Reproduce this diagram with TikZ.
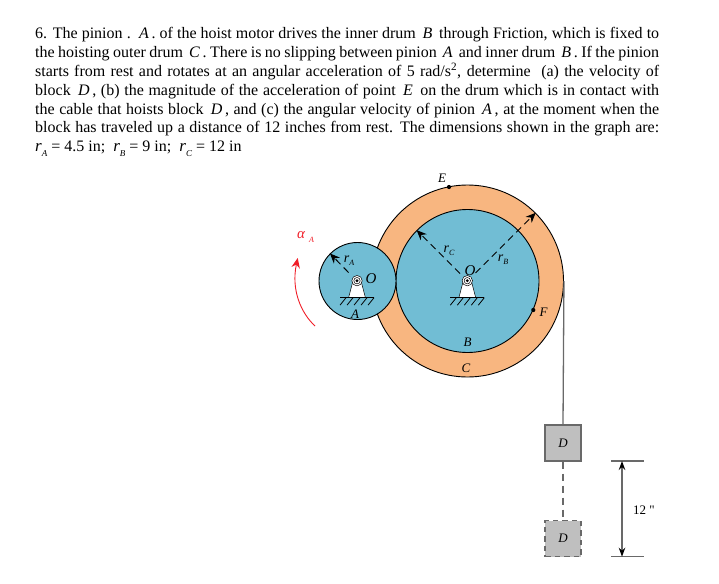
\documentclass[tikz,border=0pt]{standalone}
\usepackage{fontspec}
\setmainfont{Liberation Serif}
\newfontfamily\plainserif{Liberation Serif}
\usepackage{tikz}
\usetikzlibrary{arrows.meta, positioning, calc}
\definecolor{drumblue}{RGB}{113,189,212}
\definecolor{drumorange}{RGB}{248,182,128}
\definecolor{blockgray}{RGB}{191,191,191}
\definecolor{cablegray}{RGB}{105,105,105}
\definecolor{alphared}{RGB}{240,30,40}
\newcommand{\ital}[1]{\,\textit{#1}\,}
\newcommand{\rsub}[1]{{\fontsize{17}{17}\selectfont\textit{r}}\raisebox{-0.3em}{\fontsize{9}{9}\selectfont\textit{#1}}}
\tikzset{
    drum/.style={draw=black, line width=0.9pt, circle, inner sep=0pt},
    blockbox/.style={draw=cablegray, line width=1.2pt, fill=blockgray, minimum width=36pt, minimum height=36pt, inner sep=0pt, font=\fontsize{13}{13}\selectfont\itshape},
    radius/.style={draw=black, line width=1pt, dash pattern=on 7pt off 4.5pt, -{Stealth[length=10pt,width=8.5pt]}},
    lbl/.style={inner sep=0pt, font=\fontsize{13}{13}\selectfont\itshape},
    rlbl/.style={inner sep=0pt, font=\fontsize{12}{12}\selectfont\itshape},
    point/.style={circle, fill=black, inner sep=0pt, minimum size=4.2pt},
    support/.pic={
        \fill[white, draw=black, line width=0.5pt] (-4.5,2) -- (-8.3,16.6) -- (8.3,16.6) -- (4.5,2) -- cycle;
        \draw[line width=1.2pt] (-17,16.8) -- (17,16.8);
        \foreach \xx in {-10,-3,4,11,18}
            \draw[line width=0.8pt] (\xx-7,24.5) -- (\xx-1,17);
        \draw[fill=white, line width=0.5pt] (0,0) circle (5.2pt);
        \draw[line width=0.5pt] (0,0) circle (3.2pt);
        \fill (0,0) circle (1.6pt);
    }
}
\begin{document}
\begin{tikzpicture}[x=1pt, y=-1pt]
    \useasboundingbox (0,0) rectangle (719,583);
    % problem statement
    \node[anchor=north west, inner sep=0pt, text width=624pt, align=justify, font=\fontsize{16}{18.8}\selectfont] (statement) at (35,27.5) {
        6. The pinion . \ital{A}. of the hoist motor drives the inner drum \ital{B} through Friction, which is fixed to\linebreak
        the hoisting outer drum \ital{C}. There is no slipping between pinion \ital{A} and inner drum \ital{B}. If the pinion\linebreak
        starts from rest and rotates at an angular acceleration of 5 rad/s\textsuperscript{2}, determine \ (a) the velocity of\linebreak
        block \ital{D}, (b) the magnitude of the acceleration of point \ital{E} on the drum which is in contact with\linebreak
        the cable that hoists block \ital{D}, and (c) the angular velocity of pinion \ital{A}, at the moment when the\linebreak
        block has traveled up a distance of 12 inches from rest. The dimensions shown in the graph are:\linebreak
        \rsub{A} = 4.5 in; \ \rsub{B} = 9 in; \ \rsub{C} = 12 in
    };
    % drums
    \node[drum, fill=drumorange, minimum size=192pt] (drumC) at (467.5,281) {};
    \node[drum, fill=drumblue, minimum size=143pt] (drumB) at (467.5,281) {};
    \node[drum, fill=drumblue, minimum size=77pt] (pinion) at (357.5,281) {};
    \pic at (357,280.7) {support};
    \pic at (467.3,280.7) {support};
    % radii
    \coordinate (startC) at (460,273.5);
    \coordinate (startB) at (475.5,273);
    \coordinate (startA) at (348.5,272.5);
    \draw[radius] (startC) -- (drumB.135);
    \draw[radius] (startB) -- (drumC.45);
    \draw[radius] (startA) -- (pinion.135);
    % labels
    \node[rlbl] (labelrC) at (449,251) {\fontsize{14}{14}\selectfont r\raisebox{-0.2em}{\fontsize{8}{8}\selectfont C}};
    \node[rlbl] (labelrB) at (503,260) {\fontsize{14}{14}\selectfont r\raisebox{-0.2em}{\fontsize{8}{8}\selectfont B}};
    \node[rlbl] (labelrA) at (349,260.5) {\fontsize{14}{14}\selectfont r\raisebox{-0.2em}{\fontsize{8}{8}\selectfont A}};
    \node[lbl, font=\fontsize{15}{15}\selectfont\itshape] (labelOB) at (470,270.5) {O};
    \node[lbl, font=\fontsize{15}{15}\selectfont\itshape] (labelOA) at (371,279) {O};
    \node[lbl] (labelA) at (355,314) {A};
    \node[lbl] (labelB) at (467.5,342.5) {B};
    \node[lbl] (labelC) at (466,368.5) {C};
    \node[lbl] (labelE) at (442,178.5) {E};
    \node[lbl] (labelF) at (543.5,312.5) {F};
    \node[point] (pointE) at (449,187) {};
    \node[point] (pointF) at (533.3,310) {};
    % angular acceleration
    \node[lbl, text=alphared, font=\fontsize{15}{15}\selectfont\itshape] (alphaA) at (301,235) {α};
    \node[lbl, text=alphared, font=\fontsize{8}{8}\selectfont\itshape] (alphasub) at (311.5,240) {A};
    \coordinate (spinEnd) at (315,326);
    \coordinate (spinTip) at (297.7,258);
    \draw[alphared, line width=0.9pt, -{Stealth[length=10pt,width=8.5pt]}] (spinEnd) .. controls (301,313) and (291,290) .. (spinTip);
    % hanging block
    \node[blockbox] (blockD) at (563,443) {D};
    \node[blockbox, dash pattern=on 5.5pt off 4pt] (blockDup) at (563,538.7) {D};
    \draw[cablegray, line width=1.3pt] (drumC.east) -- (blockD.north);
    \draw[cablegray, line width=1.3pt, dash pattern=on 7pt off 5pt] (blockD.south) -- (blockDup.north);
    % travel dimension
    \coordinate (dimTop) at (622,461);
    \coordinate (dimBot) at (622,556.7);
    \draw[cablegray, line width=1.2pt] ($(dimTop)+(-11,0)$) -- ($(dimTop)+(21.5,0)$);
    \draw[cablegray, line width=1.2pt] ($(dimBot)+(-11,0)$) -- ($(dimBot)+(21.5,0)$);
    \draw[cablegray, line width=1.4pt, {Stealth[length=9pt,width=6.5pt,black]}-{Stealth[length=9pt,width=6.5pt,black]}] (dimTop) -- (dimBot);
    \node[lbl, font=\fontsize{13}{13}\selectfont\plainserif] (travel) at (644,510) {12 "};
\end{tikzpicture}
\end{document}
